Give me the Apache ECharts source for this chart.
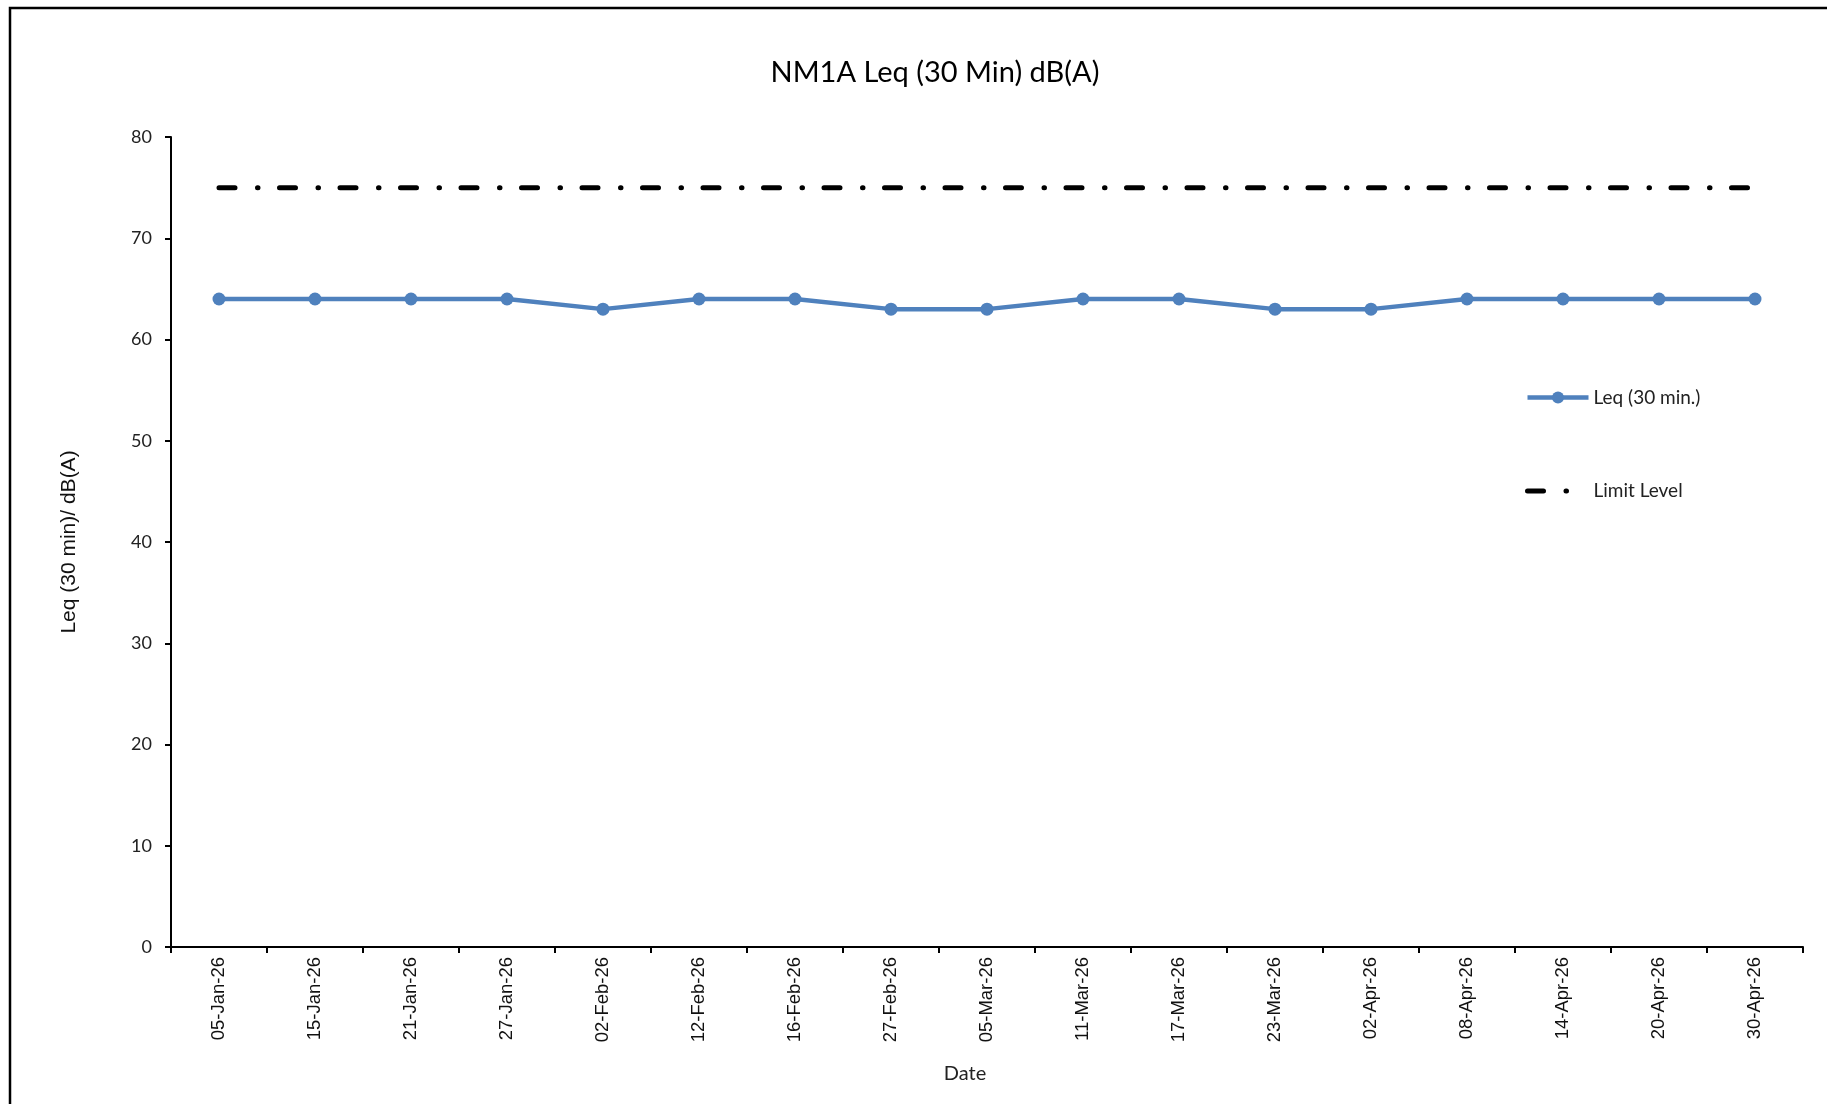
<!DOCTYPE html>
<html>
<head>
<meta charset="utf-8">
<script src="https://cdn.jsdelivr.net/npm/echarts@6/dist/echarts.min.js"></script>
<style>html,body{margin:0;padding:0;background:#fff;}#c{width:1827px;height:1104px;}</style>
</head>
<body>
<div id="c"></div>
<script>
const dates = ['05-Jan-26','15-Jan-26','21-Jan-26','27-Jan-26','02-Feb-26','12-Feb-26','16-Feb-26','27-Feb-26','05-Mar-26','11-Mar-26','17-Mar-26','23-Mar-26','02-Apr-26','08-Apr-26','14-Apr-26','20-Apr-26','30-Apr-26'];
const leq = [64,64,64,64,63,64,64,63,63,64,64,63,63,64,64,64,64];
const limitLevel = [75,75,75,75,75,75,75,75,75,75,75,75,75,75,75,75,75];
const yTicks = {min: 0, max: 80, interval: 10};

const calibri = 'Lato, "Open Sans", sans-serif';
const arial = '"Liberation Sans", Arial, sans-serif';
const chart = echarts.init(document.getElementById('c'), null, {renderer: 'canvas'});
chart.setOption({
  backgroundColor: '#fff',
  animation: false,
  title: {
    text: 'NM1A Leq (30 Min) dB(A)',
    left: 930, top: 53, textAlign: 'center',
    textStyle: {fontFamily: calibri, fontSize: 29, fontWeight: 'normal', color: '#000'}
  },
  graphic: [{
    type: 'rect', shape: {x: 10, y: 8, width: 1840, height: 1200},
    style: {fill: 'none', stroke: '#000', lineWidth: 2.5}, silent: true
  }],
  legend: {
    orient: 'vertical', left: 1525, top: 388, padding: 0,
    itemWidth: 61, itemHeight: 15, itemGap: 74.5,
    textStyle: {fontFamily: calibri, fontSize: 19, color: '#222'},
    data: [
      {name: 'Leq (30 min.)', lineStyle: {width: 4.5, color: '#4F81BD'}},
      {name: 'Limit Level', lineStyle: {type: [16, 22.5, 0.5, 100], cap: 'round', width: 5, color: '#000'},
       itemStyle: {opacity: 0}}
    ]
  },
  grid: {left: 171, right: 24, top: 137, bottom: 157, containLabel: false},
  xAxis: {
    type: 'category', data: dates, boundaryGap: true,
    name: 'Date', nameLocation: 'middle', nameGap: 117,
    nameTextStyle: {fontFamily: calibri, fontSize: 20, color: '#222', padding: [0, 44, 0, 0]},
    axisLine: {lineStyle: {color: '#000', width: 2}},
    axisTick: {show: true, length: 6, lineStyle: {color: '#000', width: 2}},
    axisLabel: {rotate: 90, margin: 10, fontFamily: arial, fontSize: 18.5, color: '#111'},
    splitLine: {show: false}
  },
  yAxis: {
    type: 'value', min: yTicks.min, max: yTicks.max, interval: yTicks.interval,
    name: 'Leq (30 min)/ dB(A)', nameLocation: 'middle', nameGap: 91, nameRotate: 90,
    nameTextStyle: {fontFamily: arial, fontSize: 21, color: '#111'},
    axisLine: {show: true, lineStyle: {color: '#000', width: 2}},
    axisTick: {show: true, length: 6, lineStyle: {color: '#000', width: 2}},
    axisLabel: {margin: 19, fontFamily: calibri, fontSize: 18, color: '#222'},
    splitLine: {show: false}
  },
  series: [
    {
      name: 'Leq (30 min.)', type: 'line', data: leq,
      symbol: 'circle', symbolSize: 13,
      lineStyle: {color: '#4F81BD', width: 4.5},
      itemStyle: {color: '#4F81BD'}
    },
    {
      name: 'Limit Level', type: 'line', data: limitLevel,
      symbol: 'none',
      lineStyle: {color: '#000', width: 5, type: [16, 22.5, 0.5, 21.5], cap: 'round'},
      itemStyle: {color: '#000'}
    }
  ]
});
</script>
</body>
</html>
